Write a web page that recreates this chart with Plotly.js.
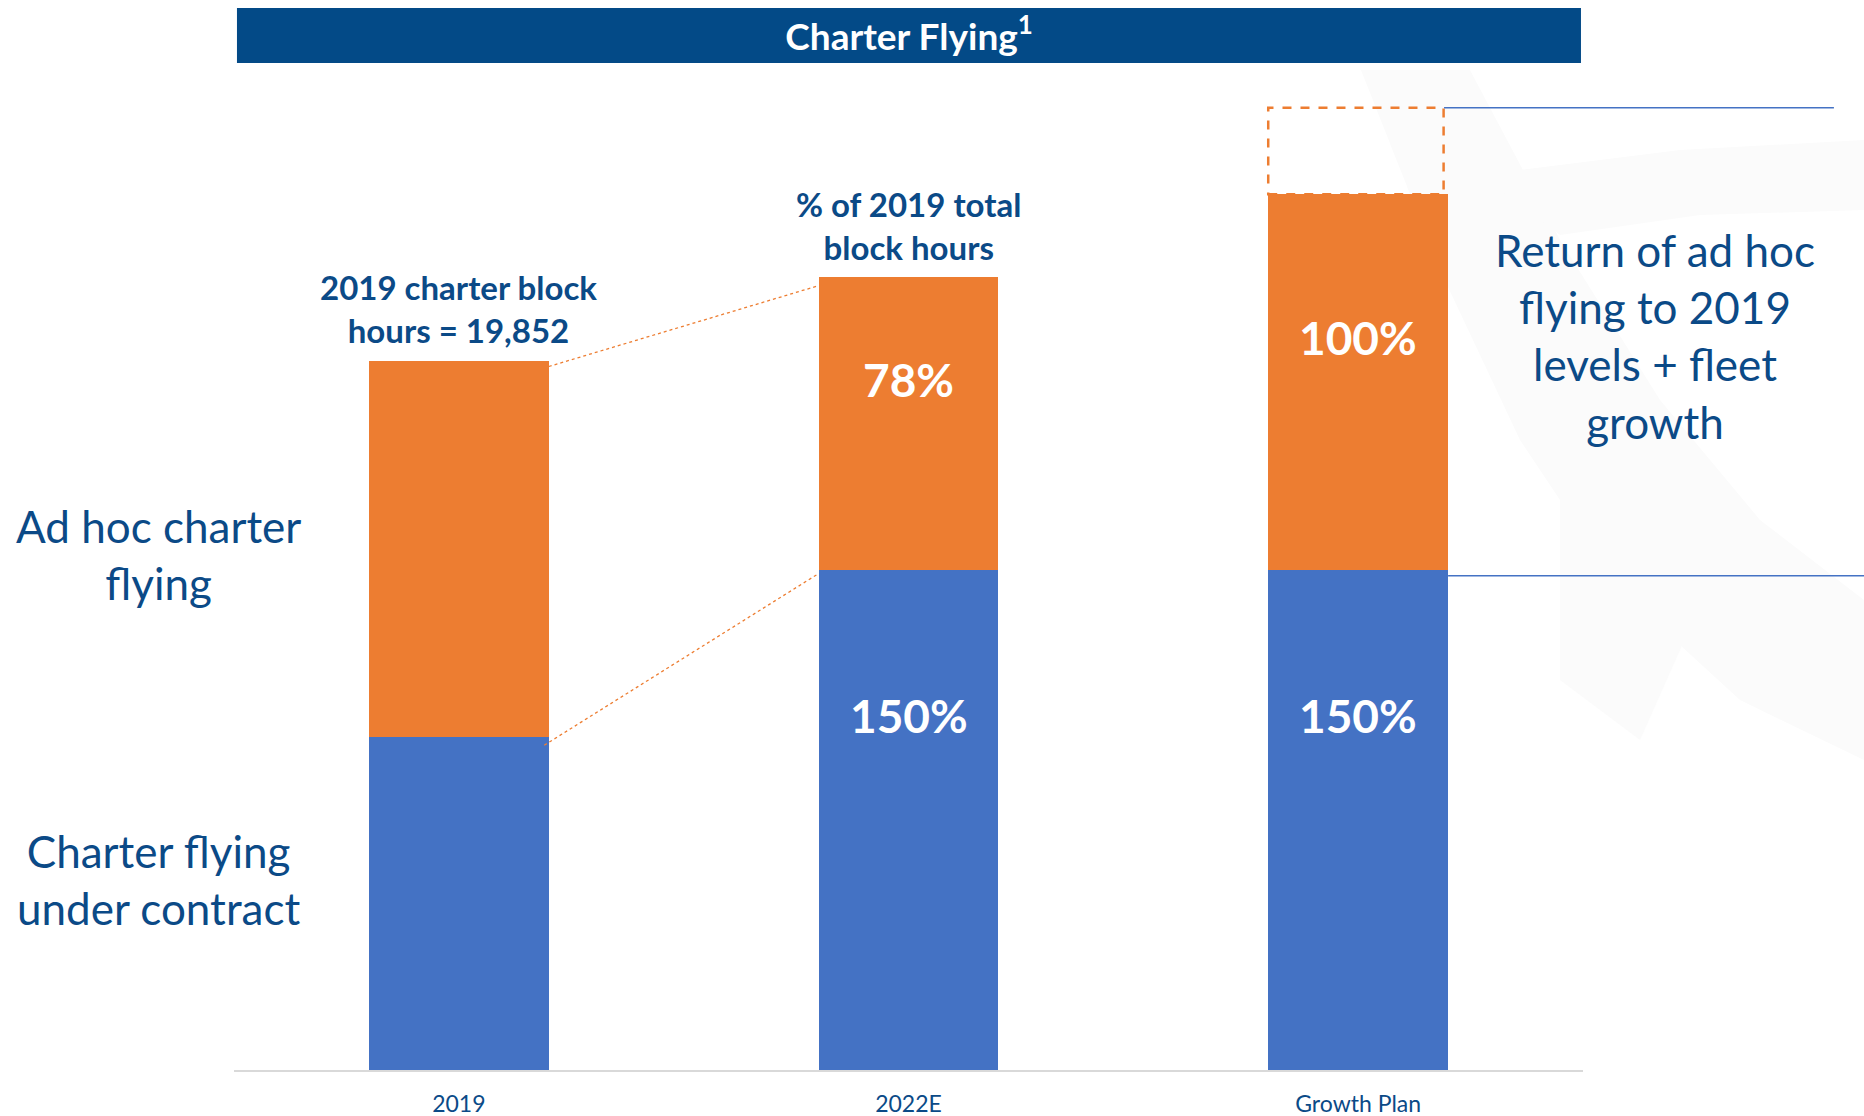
<!DOCTYPE html>
<html>
<head>
<meta charset="utf-8">
<script src="https://cdn.plot.ly/plotly-3.0.1.min.js"></script>
<style>html,body{margin:0;padding:0;background:#fff;}#chart{width:1864px;height:1116px;}</style>
</head>
<body>
<div id="chart"></div>
<script>
// Data: share of 2019 total charter block hours (2019 total = 100)
const categories = ['2019', '2022E', 'Growth Plan'];
const contractFlying = [47, 70.5, 70.5];      // Charter flying under contract
const adHocFlying = [53, 41.3, 53];           // Ad hoc charter flying
const fleetGrowth = [0, 0, 12.2];             // additional growth (dashed)
const contractLabels = ['', '150%', '150%'];
const adHocLabels = ['', '78%', '100%'];
const topNotes = ['2019 charter block<br>hours = 19,852', '% of 2019 total<br>block hours', ''];

const BLUE = '#4472C4', ORANGE = '#ED7D31', NAVY = '#0B4A87', BAR_NAVY = '#034A87';
const FONT = 'Lato, "Open Sans", sans-serif';
const yMax = 139.6;
const halfW = 0.2;

const totals = contractFlying.map((v, i) => v + adHocFlying[i]);

const traces = [
  {type: 'bar', x: categories, y: contractFlying, marker: {color: BLUE, line: {width: 0}},
   hoverinfo: 'skip', showlegend: false},
  {type: 'bar', x: categories, y: adHocFlying, marker: {color: ORANGE, line: {width: 0}},
   hoverinfo: 'skip', showlegend: false}
];

// faint background watermark (decorative), defined in page pixels
const PL = 234, PB = 1070, PW = 1349, PH = 990;
function pxPath(pts) {
  return 'M' + pts.map(p => ((p[0] - PL) / PW).toFixed(4) + ',' + ((PB - p[1]) / PH).toFixed(4)).join(' L') + ' Z';
}
const wmA = [[1361, 70], [1470, 70], [1560, 240], [1660, 400], [1760, 520], [1864, 600], [1864, 760],
             [1740, 700], [1620, 590], [1520, 440], [1440, 270]];
const wmB = [[1480, 175], [1680, 150], [1864, 140], [1864, 210], [1700, 215], [1560, 235]];
const wmC = [[1560, 460], [1660, 420], [1720, 560], [1640, 740], [1560, 680]];

const shapes = [];
[wmA, wmB, wmC].forEach(p => shapes.push({type: 'path', xref: 'paper', yref: 'paper', path: pxPath(p),
  fillcolor: '#fbfbfb', line: {width: 0}, layer: 'below'}));
// title bar
shapes.push({type: 'rect', xref: 'paper', yref: 'paper', x0: 0.0022, x1: 0.9985, y0: 1.0172, y1: 1.0727,
  fillcolor: BAR_NAVY, line: {width: 0}, layer: 'below'});
// dashed fleet growth box
shapes.push({type: 'rect', xref: 'x', yref: 'y', x0: 2 - halfW, x1: 2 + halfW - 0.01,
  y0: totals[2], y1: totals[2] + fleetGrowth[2], line: {color: ORANGE, width: 2.5, dash: 'dash'},
  fillcolor: 'rgba(0,0,0,0)'});
// connector lines
shapes.push({type: 'line', xref: 'x', yref: 'y', x0: 0 + halfW, x1: 1 - halfW,
  y0: totals[0] - 0.8, y1: totals[1] - 1.2, line: {color: ORANGE, width: 1.3, dash: 'dot'}});
shapes.push({type: 'line', xref: 'x', yref: 'y', x0: 0 + halfW - 0.01, x1: 1 - halfW,
  y0: contractFlying[0] - 1.2, y1: contractFlying[1] - 0.5, line: {color: ORANGE, width: 1.3, dash: 'dot'}});
// right bracket lines (blue)
const xRightEdge = (2 + halfW + 0.5) / 3;
shapes.push({type: 'line', xref: 'paper', yref: 'paper', x0: xRightEdge - 0.003, x1: 1.186,
  y0: (totals[2] + fleetGrowth[2]) / yMax, y1: (totals[2] + fleetGrowth[2]) / yMax,
  line: {color: BLUE, width: 1.5}});
shapes.push({type: 'line', xref: 'paper', yref: 'paper', x0: xRightEdge, x1: 1.21,
  y0: (contractFlying[2] - 0.8) / yMax, y1: (contractFlying[2] - 0.8) / yMax,
  line: {color: BLUE, width: 1.5}});

const annotations = [];
// left side series labels
annotations.push({xref: 'paper', yref: 'paper', x: -0.0563, y: 0.521, xanchor: 'center', yanchor: 'middle',
  text: 'Ad hoc charter<br>flying', showarrow: false, font: {family: FONT, size: 44, color: NAVY}});
annotations.push({xref: 'paper', yref: 'paper', x: -0.0556, y: 0.192, xanchor: 'center', yanchor: 'middle',
  text: 'Charter flying<br>under contract', showarrow: false, font: {family: FONT, size: 44, color: NAVY}});
// right side note
annotations.push({xref: 'paper', yref: 'paper', x: 1.0534, y: 0.741, xanchor: 'center', yanchor: 'middle',
  text: 'Return of ad hoc<br>flying to 2019<br>levels + fleet<br>growth', showarrow: false,
  font: {family: FONT, size: 44, color: NAVY}});
// notes above bars
categories.forEach((c, i) => {
  if (topNotes[i]) annotations.push({xref: 'x', yref: 'y', x: i, y: totals[i], yshift: 52,
    xanchor: 'center', yanchor: 'middle', text: '<b>' + topNotes[i] + '</b>', showarrow: false,
    font: {family: FONT, size: 33, color: NAVY}});
});
// value labels in bars
const adHocFrac = [0, 0.65, 0.62];
const contractFrac = [0, 0.71, 0.71];
categories.forEach((c, i) => {
  if (adHocLabels[i]) annotations.push({xref: 'x', yref: 'y', x: i,
    y: contractFlying[i] + adHocFlying[i] * adHocFrac[i], xanchor: 'center', yanchor: 'middle',
    text: '<b>' + adHocLabels[i] + '</b>', showarrow: false, font: {family: FONT, size: 46, color: '#ffffff'}});
  if (contractLabels[i]) annotations.push({xref: 'x', yref: 'y', x: i,
    y: contractFlying[i] * contractFrac[i], xanchor: 'center', yanchor: 'middle',
    text: '<b>' + contractLabels[i] + '</b>', showarrow: false, font: {family: FONT, size: 46, color: '#ffffff'}});
});

const layout = {
  width: 1864, height: 1116,
  margin: {l: 234, r: 281, t: 80, b: 46, pad: 0},
  paper_bgcolor: '#ffffff', plot_bgcolor: 'rgba(0,0,0,0)',
  title: {text: '<b>Charter Flying<sup>1</sup></b>', xref: 'container', yref: 'container',
    x: 0.4877, y: 1 - 37 / 1116, xanchor: 'center', yanchor: 'middle',
    font: {family: FONT, size: 37, color: '#ffffff'}},
  barmode: 'stack', bargap: 0.6,
  xaxis: {type: 'category', showline: true, linecolor: '#d9d9d9', linewidth: 2, ticks: '',
    showgrid: false, zeroline: false, tickfont: {family: FONT, size: 23, color: NAVY},
    ticklabelstandoff: 12, fixedrange: true},
  yaxis: {range: [0, yMax], visible: false, showgrid: false, zeroline: false, fixedrange: true},
  shapes: shapes, annotations: annotations, showlegend: false
};

Plotly.newPlot('chart', traces, layout, {displayModeBar: false, staticPlot: true});
</script>
</body>
</html>
